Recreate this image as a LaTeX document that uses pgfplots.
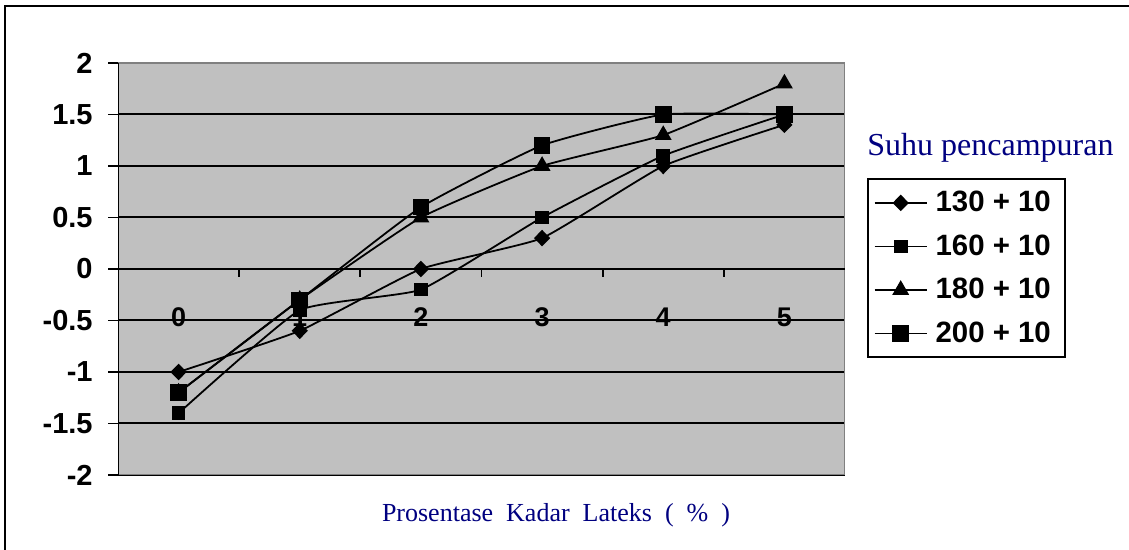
\documentclass[border=0pt]{standalone}
\usepackage{pgfplots}
\pgfplotsset{compat=1.18}
\usepackage{fontspec}
\setmainfont{Liberation Serif}
\newfontfamily\arial{Liberation Sans}

\definecolor{plotgray}{HTML}{C0C0C0}
\definecolor{framegray}{HTML}{808080}
\definecolor{navy}{RGB}{0,0,128}

\begin{document}
\begin{tikzpicture}[x=1pt,y=1pt]
\useasboundingbox (0,0) rectangle (564.5,275);
\draw[line width=0.9pt] (2.5,-5) -- (2.5,272) -- (570,272);

\begin{axis}[
    at={(59pt,37.5pt)}, anchor=south west,
    scale only axis, width=363.5pt, height=206pt,
    xmin=-0.5, xmax=5.5, ymin=-2, ymax=2,
    axis line style={draw=none},
    axis background/.style={fill=plotgray},
    xtick={0,1,2,3,4,5},
    xticklabels={0,1,2,3,4,5},
    x tick style={draw=none},
    xticklabel style={font=\arial\bfseries\fontsize{13.5}{16}\selectfont, anchor=center, yshift=84pt},
    ytick={-2,-1.5,-1,-0.5,0,0.5,1,1.5,2},
    yticklabels={-2,-1.5,-1,-0.5,0,0.5,1,1.5,2},
    ytick pos=left,
    tick align=outside, major tick length=5pt,
    y tick style={black, line width=0.9pt},
    yticklabel style={font=\arial\bfseries\fontsize{14.5}{16}\selectfont, anchor=east,
                      inner xsep=0pt, xshift=-7.5pt},
    ymajorgrids, grid style={black, line width=1pt},
    xlabel={Prosentase\ \ Kadar\ \ Lateks\ \ (\ \ \%\ \ )},
    xlabel style={font=\fontsize{13}{15}\selectfont, text=navy, anchor=base,
                  at={(axis description cs:0.6025,-0.114)}},
    legend style={at={(1.0303,0.72)}, anchor=north west, draw=black, line width=0.8pt,
                  fill=white, font=\arial\bfseries\fontsize{14.7}{17}\selectfont,
                  row sep=6pt, inner xsep=3pt, inner ysep=4pt,
                  nodes={inner xsep=4pt}},
    legend cell align=left,
    legend image code/.code={\draw[mark repeat=2,mark phase=2]
        plot coordinates {(0pt,0pt) (13pt,0pt) (26pt,0pt)};},
    every axis plot/.append style={black, line width=0.9pt, smooth, tension=0.25},
]
% plot area border and x axis through zero
\draw[framegray, line width=1pt] (rel axis cs:0,0) -- (rel axis cs:1,0) -- (rel axis cs:1,1) -- (rel axis cs:0,1);
\draw[black, line width=1pt] (rel axis cs:0,0) -- (rel axis cs:0,1);
\draw[black, line width=1pt] (axis cs:-0.5,0) -- (axis cs:5.5,0);
\foreach \t in {0.5,1.5,2.5,3.5,4.5} {
    \edef\temp{\noexpand\draw[black, line width=0.9pt] (axis cs:\t,0) -- ++(0pt,-4pt);}
    \temp
}

\addplot[mark=diamond*, mark size=3.5pt, mark options={xscale=1.3}] coordinates {
    (0,-1) (1,-0.6) (2,0) (3,0.3) (4,1.0) (5,1.4)};
\addplot[mark=square*, mark size=3pt] coordinates {
    (0,-1.4) (1,-0.4) (2,-0.2) (3,0.5) (4,1.1) (5,1.5)};
\addplot[mark=triangle*, mark size=4pt] coordinates {
    (0,-1.2) (1,-0.3) (2,0.5) (3,1.0) (4,1.3) (5,1.8)};
\addplot[mark=square*, mark size=3.7pt] coordinates {
    (0,-1.2) (1,-0.3) (2,0.6) (3,1.2) (4,1.5) (5,1.5)};
\legend{130 + 10, 160 + 10, 180 + 10, 200 + 10}
\end{axis}

\node[anchor=base west, font=\fontsize{16}{18}\selectfont, text=navy, inner sep=0pt]
    at (433.5,197) {Suhu pencampuran};
\end{tikzpicture}
\end{document}
